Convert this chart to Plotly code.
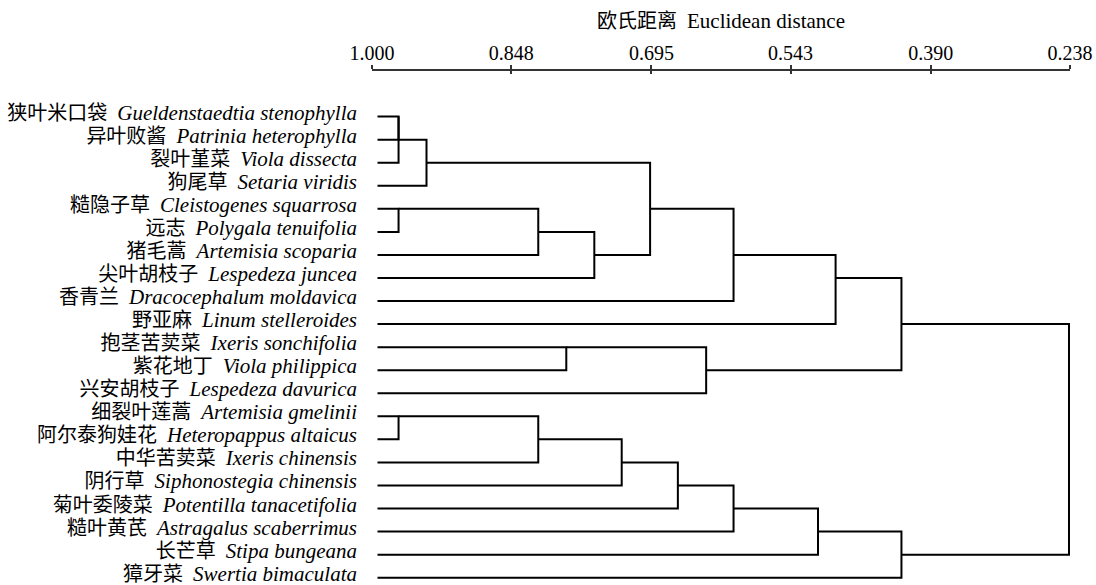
import plotly.graph_objects as go

# ---- data ----
leaf_cn = ["狭叶米口袋", "异叶败酱", "裂叶堇菜", "狗尾草", "糙隐子草", "远志", "猪毛蒿",
           "尖叶胡枝子", "香青兰", "野亚麻", "抱茎苦荬菜", "紫花地丁", "兴安胡枝子",
           "细裂叶莲蒿", "阿尔泰狗娃花", "中华苦荬菜", "阴行草", "菊叶委陵菜", "糙叶黄芪",
           "长芒草", "獐牙菜"]
leaf_latin = ["Gueldenstaedtia stenophylla", "Patrinia heterophylla", "Viola dissecta",
              "Setaria viridis", "Cleistogenes squarrosa", "Polygala tenuifolia",
              "Artemisia scoparia", "Lespedeza juncea", "Dracocephalum moldavica",
              "Linum stelleroides", "Ixeris sonchifolia", "Viola philippica",
              "Lespedeza davurica", "Artemisia gmelinii", "Heteropappus altaicus",
              "Ixeris chinensis", "Siphonostegia chinensis", "Potentilla tanacetifolia",
              "Astragalus scaberrimus", "Stipa bungeana", "Swertia bimaculata"]

# merges (ids: leaves 0..20, merged clusters 21..)
merge_left = [0, 21, 22, 4, 24, 25, 23, 27, 28, 10, 30, 29, 13, 33, 34, 35, 36, 37, 38, 32]
merge_right = [1, 2, 3, 5, 6, 7, 26, 8, 9, 11, 12, 31, 14, 15, 16, 17, 18, 19, 20, 39]
merge_dist = [0.971, 0.971, 0.9405, 0.971, 0.8185, 0.7573, 0.6964, 0.6053, 0.4939,
              0.7879, 0.6352, 0.4220, 0.971, 0.8185, 0.7274, 0.6661, 0.6053, 0.5131,
              0.4220, 0.2391]
leaf_dist = 0.994

tick_vals = [1.000, 0.848, 0.695, 0.543, 0.390, 0.238]
tick_text = ["1.000", "0.848", "0.695", "0.543", "0.390", "0.238"]
axis_title_cn = "欧氏距离"
axis_title_en = "Euclidean distance"

# ---- build dendrogram segments ----
n = len(leaf_cn)
node_row = {i: i for i in range(n)}
node_h = {i: leaf_dist for i in range(n)}
xs, ys = [], []
for k, (a, b, h) in enumerate(zip(merge_left, merge_right, merge_dist)):
    nid = n + k
    ya, yb = node_row[a], node_row[b]
    xs += [node_h[a], h, h, node_h[b], None]
    ys += [ya, ya, yb, yb, None]
    node_row[nid] = (ya + yb) // 2
    node_h[nid] = h

EN = '<span style="font-size:21px">{}</span>'
labels = [f"{c}\u00a0\u00a0" + EN.format(f"<i>{l}</i>") for c, l in zip(leaf_cn, leaf_latin)]
title_text = f"{axis_title_cn}\u00a0\u00a0" + EN.format(axis_title_en)

FONT = "Liberation Serif, Noto Sans CJK SC, serif"

fig = go.Figure()
fig.add_trace(go.Scatter(x=xs, y=ys, mode="lines",
                         line=dict(color="black", width=2),
                         hoverinfo="skip", showlegend=False))
# invisible trace for second axis
fig.add_trace(go.Scatter(x=[tick_vals[0]], y=[0], xaxis="x2", mode="markers",
                         marker=dict(opacity=0), hoverinfo="skip", showlegend=False))

xrange = [1.000, 0.238]
fig.update_layout(
    width=1096, height=585,
    margin=dict(l=372, r=26, t=71, b=5),
    plot_bgcolor="white", paper_bgcolor="white",
    font=dict(family=FONT, size=20, color="black"),
    xaxis=dict(side="top", range=xrange, tickmode="array", tickvals=tick_vals,
               ticktext=tick_text, ticks="outside", ticklen=4, tickwidth=1.5,
               tickcolor="#333", showline=True, linecolor="#333", linewidth=1.5,
               showgrid=False, zeroline=False, ticklabelstandoff=-3, automargin=False,
               title=dict(text=title_text, font=dict(size=20, family=FONT), standoff=8),
               tickfont=dict(size=20, family=FONT)),
    xaxis2=dict(overlaying="x", side="top", anchor="y", range=xrange,
                tickmode="array", tickvals=tick_vals, ticks="inside", ticklen=3,
                tickwidth=1.5, tickcolor="#333", showticklabels=False,
                showline=False, showgrid=False, zeroline=False, automargin=False),
    yaxis=dict(range=[20.1, -1.978], tickmode="array", tickvals=list(range(n)),
               ticktext=labels, ticks="", showline=False, showgrid=False,
               zeroline=False, ticklabelstandoff=14, ticklabelshift=4,
               ticklabeloverflow="allow",
               automargin=False, tickfont=dict(size=20, family=FONT)),
)

fig.write_html("out.html")
